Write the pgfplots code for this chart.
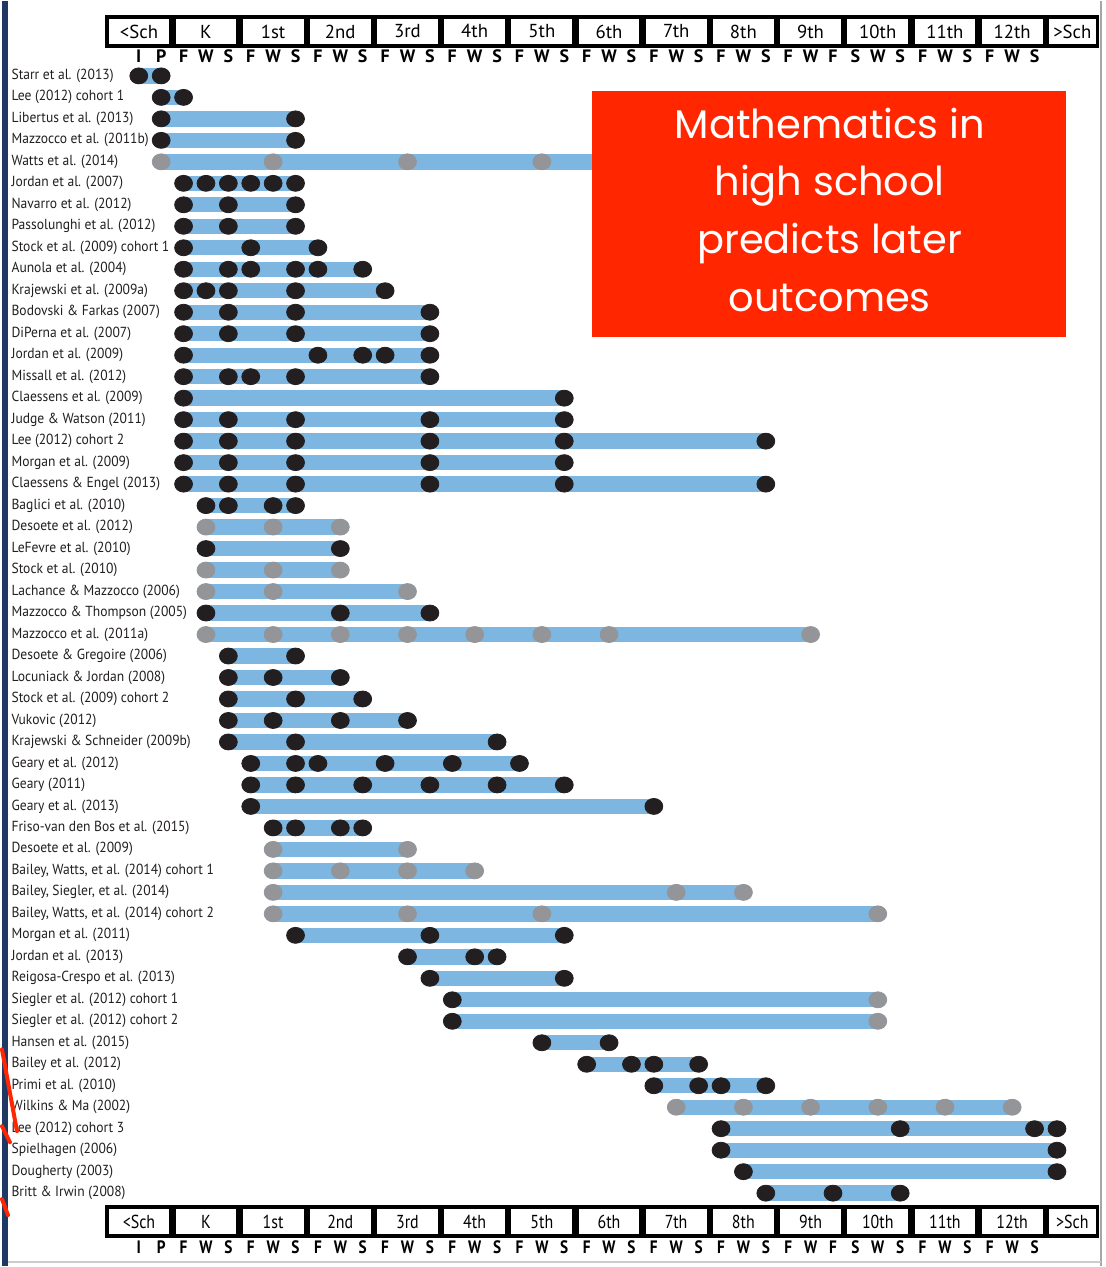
\documentclass[border=0pt]{standalone}
\usepackage{pgfplots}
\pgfplotsset{compat=1.18}
\usepackage{fontspec}
\setmainfont{PT Sans}
\newfontfamily\labelfont[FakeStretch=0.93]{PT Sans}
\newfontfamily\handfont{Poppins}

\definecolor{barblue}{HTML}{7DB6E0}
\definecolor{dotblack}{HTML}{231F20}
\definecolor{dotgray}{HTML}{939598}
\definecolor{boxred}{HTML}{FF2600}
\definecolor{navy}{HTML}{1F3864}

\begin{document}
\begin{tikzpicture}
\begin{axis}[
  at={(0,0)}, anchor=south west,
  scale only axis, width=552.5pt, height=633.5pt,
  xmin=-6.108, xmax=43.157,
  ymin=-2.485, ymax=56.39, y dir=reverse,
  axis line style={draw=none},
  major tick length=0pt,
  xtick=\empty,
  ytick={1,...,53},
  yticklabels={
    {Starr et al. (2013)},{Lee (2012) cohort 1},{Libertus et al. (2013)},
    {Mazzocco et al. (2011b)},{Watts et al. (2014)},{Jordan et al. (2007)},
    {Navarro et al. (2012)},{Passolunghi et al. (2012)},{Stock et al. (2009) cohort 1},
    {Aunola et al. (2004)},{Krajewski et al. (2009a)},{Bodovski \& Farkas (2007)},
    {DiPerna et al. (2007)},{Jordan et al. (2009)},{Missall et al. (2012)},
    {Claessens et al. (2009)},{Judge \& Watson (2011)},{Lee (2012) cohort 2},
    {Morgan et al. (2009)},{Claessens \& Engel (2013)},{Baglici et al. (2010)},
    {Desoete et al. (2012)},{LeFevre et al. (2010)},{Stock et al. (2010)},
    {Lachance \& Mazzocco (2006)},{Mazzocco \& Thompson (2005)},{Mazzocco et al. (2011a)},
    {Desoete \& Gregoire (2006)},{Locuniack \& Jordan (2008)},{Stock et al. (2009) cohort 2},
    {Vukovic (2012)},{Krajewski \& Schneider (2009b)},{Geary et al. (2012)},
    {Geary (2011)},{Geary et al. (2013)},{Friso-van den Bos et al. (2015)},
    {Desoete et al. (2009)},{Bailey, Watts, et al. (2014) cohort 1},{Bailey, Siegler, et al. (2014)},
    {Bailey, Watts, et al. (2014) cohort 2},{Morgan et al. (2011)},{Jordan et al. (2013)},
    {Reigosa-Crespo et al. (2013)},{Siegler et al. (2012) cohort 1},{Siegler et al. (2012) cohort 2},
    {Hansen et al. (2015)},{Bailey et al. (2012)},{Primi et al. (2010)},
    {Wilkins \& Ma (2002)},{Lee (2012) cohort 3},{Spielhagen (2006)},
    {Dougherty (2003)},{Britt \& Irwin (2008)}},
  yticklabel style={anchor=west, xshift=4.6pt, inner sep=0pt,
    font=\labelfont\fontsize{7.3}{8}\selectfont, text=dotblack},
  clip=false,
  axis background/.style={fill=white},
]

% study spans (start, end) per row
\addplot[barblue, line width=7.7pt, unbounded coords=jump, forget plot] coordinates {
(0,1)(1,1) (nan,nan) (1,2)(2,2) (nan,nan) (1,3)(7,3) (nan,nan) (1,4)(7,4) (nan,nan)
(1,5)(24,5) (nan,nan) (2,6)(7,6) (nan,nan) (2,7)(7,7) (nan,nan) (2,8)(7,8) (nan,nan)
(2,9)(8,9) (nan,nan) (2,10)(10,10) (nan,nan) (2,11)(11,11) (nan,nan) (2,12)(13,12) (nan,nan)
(2,13)(13,13) (nan,nan) (2,14)(13,14) (nan,nan) (2,15)(13,15) (nan,nan) (2,16)(19,16) (nan,nan)
(2,17)(19,17) (nan,nan) (2,18)(28,18) (nan,nan) (2,19)(19,19) (nan,nan) (2,20)(28,20) (nan,nan)
(3,21)(7,21) (nan,nan) (3,22)(9,22) (nan,nan) (3,23)(9,23) (nan,nan) (3,24)(9,24) (nan,nan)
(3,25)(12,25) (nan,nan) (3,26)(13,26) (nan,nan) (3,27)(30,27) (nan,nan) (4,28)(7,28) (nan,nan)
(4,29)(9,29) (nan,nan) (4,30)(10,30) (nan,nan) (4,31)(12,31) (nan,nan) (4,32)(16,32) (nan,nan)
(5,33)(17,33) (nan,nan) (5,34)(19,34) (nan,nan) (5,35)(23,35) (nan,nan) (6,36)(10,36) (nan,nan)
(6,37)(12,37) (nan,nan) (6,38)(15,38) (nan,nan) (6,39)(27,39) (nan,nan) (6,40)(33,40) (nan,nan)
(7,41)(19,41) (nan,nan) (12,42)(16,42) (nan,nan) (13,43)(19,43) (nan,nan) (14,44)(33,44) (nan,nan)
(14,45)(33,45) (nan,nan) (18,46)(21,46) (nan,nan) (20,47)(25,47) (nan,nan) (23,48)(28,48) (nan,nan)
(24,49)(39,49) (nan,nan) (26,50)(41,50) (nan,nan) (26,51)(41,51) (nan,nan) (27,52)(41,52) (nan,nan)
(28,53)(34,53)
};

% measurement points, black
\addplot[dotblack, only marks, mark=*, mark size=4pt,
  mark options={xscale=1.12}] coordinates {
(0,1)(1,1) (1,2)(2,2) (1,3)(7,3) (1,4)(7,4)
(2,6)(3,6)(4,6)(5,6)(6,6)(7,6)
(2,7)(4,7)(7,7) (2,8)(4,8)(7,8) (2,9)(5,9)(8,9)
(2,10)(4,10)(5,10)(7,10)(8,10)(10,10)
(2,11)(3,11)(4,11)(7,11)(11,11)
(2,12)(4,12)(7,12)(13,12) (2,13)(4,13)(7,13)(13,13)
(2,14)(8,14)(10,14)(11,14)(13,14)
(2,15)(4,15)(5,15)(7,15)(13,15)
(2,16)(19,16)
(2,17)(4,17)(7,17)(13,17)(19,17)
(2,18)(4,18)(7,18)(13,18)(19,18)(28,18)
(2,19)(4,19)(7,19)(13,19)(19,19)
(2,20)(4,20)(7,20)(13,20)(19,20)(28,20)
(3,21)(4,21)(6,21)(7,21)
(3,23)(9,23) (3,26)(9,26)(13,26)
(4,28)(7,28) (4,29)(6,29)(9,29) (4,30)(7,30)(10,30)
(4,31)(6,31)(9,31)(12,31) (4,32)(7,32)(16,32)
(5,33)(7,33)(8,33)(11,33)(14,33)(17,33)
(5,34)(7,34)(10,34)(13,34)(16,34)(19,34)
(5,35)(23,35) (6,36)(7,36)(9,36)(10,36)
(7,41)(13,41)(19,41) (12,42)(15,42)(16,42) (13,43)(19,43)
(14,44) (14,45) (18,46)(21,46)
(20,47)(22,47)(23,47)(25,47)
(23,48)(25,48)(26,48)(28,48)
(26,50)(34,50)(40,50)(41,50)
(26,51)(41,51) (27,52)(41,52) (28,53)(31,53)(34,53)
};

% measurement points, gray
\addplot[dotgray, only marks, mark=*, mark size=4pt,
  mark options={xscale=1.12}] coordinates {
(1,5)(6,5)(12,5)(18,5)
(3,22)(6,22)(9,22) (3,24)(6,24)(9,24) (3,25)(6,25)(12,25)
(3,27)(6,27)(9,27)(12,27)(15,27)(18,27)(21,27)(30,27)
(6,37)(12,37) (6,38)(9,38)(12,38)(15,38)
(6,39)(24,39)(27,39) (6,40)(12,40)(18,40)(33,40)
(33,44) (33,45)
(24,49)(27,49)(30,49)(33,49)(36,49)(39,49)
};
\end{axis}

\begin{scope}[x=0.5pt, y=-0.5pt, shift={(0pt,633.5pt)}]
  % slide frame
  \fill[navy] (0,0) rectangle (6,1267);
  \draw[gray!70, line width=1pt] (1101,0) -- (1101,1267);
  \draw[gray!40, line width=1pt] (6,1263) -- (1101,1263);
  \draw[boxred, line width=2pt, line cap=round] (0,1050) -- (15,1132);
  \draw[boxred, line width=2pt, line cap=round] (0,1127) -- (8,1143);
  \draw[boxred, line width=2pt, line cap=round] (0,1200) -- (6,1216);

  % grade header, top and bottom
  \foreach \yt/\ys/\sx in {14/55/1, 1206/1248/0.85} {
    \fill[black] (103,\yt) rectangle (1099,\yt+33);
    \foreach \lab [count=\k from 0] in {\textless Sch,K,1st,2nd,3rd,4th,5th,6th,7th,8th,9th,10th,11th,12th,\textgreater Sch} {
      \pgfmathsetmacro{\L}{\k==0 ? 107 : 170.6+67.29*(\k-1)+3.2}
      \pgfmathsetmacro{\R}{\k==14 ? 1095.5 : 170.6+67.29*\k-3.2}
      \fill[white] (\L,\yt+4) rectangle (\R,\yt+29);
      \node[font=\fontsize{9.4}{10}\selectfont, inner sep=0pt, xscale=\sx, transform shape]
        at ({(\L+\R)/2},\yt+16.5) {\lab};
    }
    \foreach \l [count=\i from 0] in {I,P,F,W,S,F,W,S,F,W,S,F,W,S,F,W,S,F,W,S,F,W,S,F,W,S,F,W,S,F,W,F,S,W,S,F,W,S,F,W,S} {
      \node[font=\bfseries\fontsize{9}{10}\selectfont, inner sep=0pt, xscale=\sx, transform shape]
        at ({137+22.43*\i},\ys) {\l};
    }
  }

  % overlay box
  \fill[boxred] (591,90) rectangle (1066,337);
  \foreach \txt/\yb in {Mathematics in/138, high school/195, predicts later/253, outcomes/311} {
    \node[anchor=base, text=white, inner sep=0pt, font=\handfont\fontsize{20}{24}\selectfont]
      at (829,\yb) {\txt};
  }
\end{scope}
\end{tikzpicture}
\end{document}
